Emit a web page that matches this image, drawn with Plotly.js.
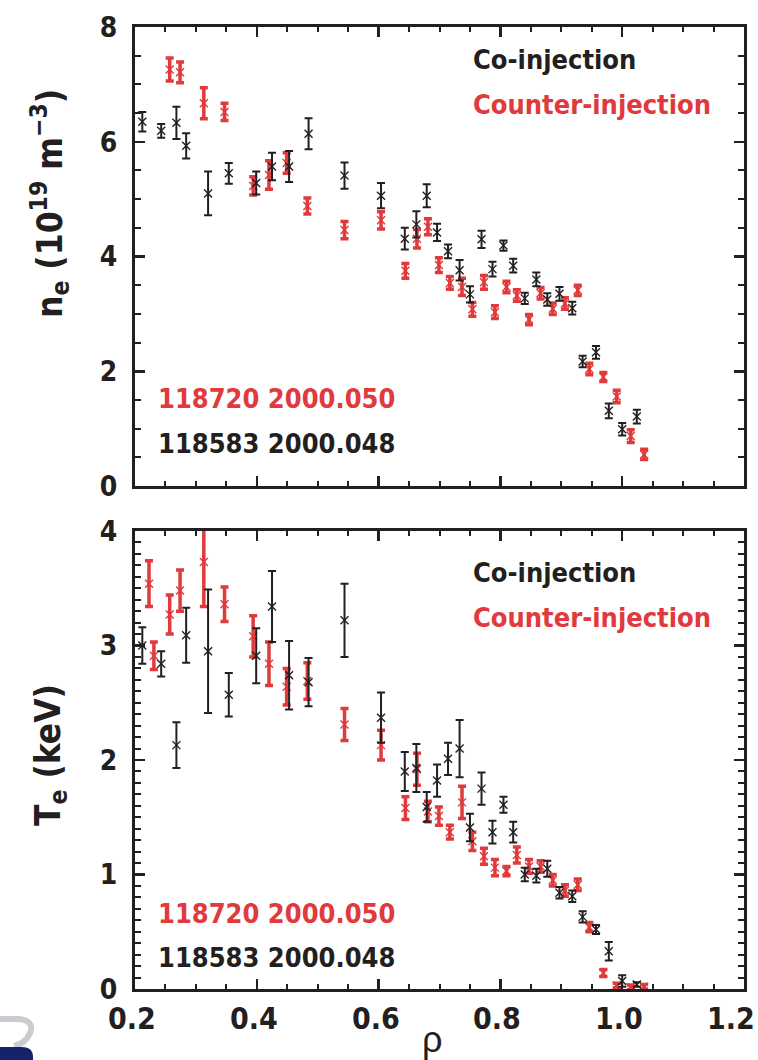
<!DOCTYPE html>
<html>
<head>
<meta charset="utf-8">
<script src="https://cdn.plot.ly/plotly-3.0.1.min.js"></script>
<style>html,body{margin:0;padding:0;background:#fff;}#chart{width:758px;height:1060px;}</style>
</head>
<body>
<div id="chart"></div>
<script>
// ---------------- data ----------------
// Co-injection (black), shot 118583 @ 2000.048
const rhoCo = [0.212,0.243,0.268,0.284,0.320,0.354,0.399,0.425,0.453,0.485,
  0.544,0.604,0.643,0.662,0.679,0.696,0.714,0.733,0.750,0.769,0.787,0.805,0.821,
  0.840,0.859,0.877,0.897,0.918,0.935,0.957,0.978,1.000,1.024];
const neCo = [6.35,6.19,6.33,5.93,5.10,5.45,5.28,5.57,5.57,6.14,
  5.41,5.06,4.31,4.56,5.06,4.42,4.09,3.76,3.34,4.30,3.78,4.19,3.84,
  3.27,3.60,3.25,3.35,3.10,2.17,2.33,1.31,0.99,1.21];
const neCoErr = [0.17,0.12,0.28,0.22,0.38,0.18,0.20,0.24,0.27,0.27,
  0.23,0.22,0.19,0.23,0.20,0.15,0.12,0.18,0.14,0.15,0.13,0.09,0.12,
  0.10,0.12,0.11,0.12,0.11,0.10,0.11,0.13,0.11,0.12];
const teCo = [3.00,2.84,2.13,3.09,2.95,2.57,2.91,3.34,2.74,2.68,
  3.22,2.37,1.90,1.93,1.59,1.82,2.01,2.10,1.41,1.75,1.37,1.61,1.37,
  1.00,0.99,1.05,0.84,0.81,0.63,0.52,0.33,0.07,0.04];
const teCoErr = [0.16,0.11,0.20,0.24,0.54,0.19,0.24,0.31,0.30,0.21,
  0.32,0.22,0.17,0.21,0.13,0.14,0.14,0.25,0.12,0.14,0.10,0.07,0.09,
  0.06,0.06,0.07,0.05,0.05,0.05,0.04,0.08,0.05,0.02];

// Counter-injection (red), shot 118720 @ 2000.050
const rhoCtrNe = [0.257,0.274,0.313,0.347,0.394,0.420,0.449,0.483,
  0.544,0.604,0.644,0.663,0.681,0.699,0.717,0.737,0.754,0.773,0.791,0.810,0.827,
  0.847,0.866,0.886,0.906,0.927,0.946,0.969,0.991,1.014,1.036];
const neCtr = [7.26,7.21,6.67,6.52,5.23,5.42,5.63,4.88,
  4.46,4.63,3.75,4.31,4.52,3.85,3.54,3.47,3.08,3.55,3.03,3.47,3.32,
  2.90,3.36,3.09,3.18,3.41,2.04,1.90,1.56,0.87,0.55];
const neCtrErr = [0.20,0.18,0.27,0.15,0.16,0.25,0.18,0.14,
  0.15,0.15,0.13,0.16,0.14,0.13,0.11,0.15,0.12,0.12,0.11,0.10,0.10,
  0.09,0.10,0.10,0.10,0.09,0.10,0.08,0.11,0.11,0.09];
const rhoCtrTe = [0.223,0.231,0.257,0.274,0.313,0.347,0.394,0.420,0.449,0.483,
  0.544,0.604,0.644,0.663,0.681,0.699,0.717,0.737,0.754,0.773,0.791,0.810,0.827,
  0.847,0.866,0.886,0.906,0.927,0.946,0.969,0.991,1.014,1.036];
const teCtr = [3.54,2.91,3.27,3.48,3.73,3.36,3.08,2.84,2.64,2.69,
  2.31,2.13,1.58,1.92,1.55,1.51,1.37,1.63,1.29,1.16,1.06,1.03,1.17,
  1.07,1.07,0.95,0.86,0.91,0.54,0.14,0.03,0.015,0.02];
const teCtrErr = [0.20,0.12,0.17,0.18,0.39,0.15,0.18,0.19,0.16,0.16,
  0.14,0.13,0.10,0.14,0.09,0.08,0.06,0.14,0.08,0.07,0.07,0.04,0.07,
  0.06,0.05,0.05,0.05,0.05,0.04,0.03,0.02,0.02,0.02];

const xTicks = [0.2,0.4,0.6,0.8,1.0,1.2];
const xTickText = ['0.2','0.4','0.6','0.8','1.0','1.2'];
const legendCo = 'Co-injection';
const legendCtr = 'Counter-injection';
const shotCtr = '118720 2000.050';
const shotCo = '118583 2000.048';

// ---------------- style ----------------
const BLACK = '#231f20';
const RED = '#e03a3c';
const FONT = "'Liberation Sans Narrow', 'Arial Narrow', 'DejaVu Sans Condensed', 'Liberation Sans', sans-serif";

// figure geometry (pixels)
const W = 758, H = 1060;
const M = {l:135, r:14, t:27, b:71};
const PW = W - M.l - M.r, PH = H - M.t - M.b;
const px2x = p => (p - M.l) / PW;
const py2y = p => (H - M.b - p) / PH;

function coTrace(x, y, e, xa, ya) {
  return {x, y, type:'scatter', mode:'markers', xaxis:xa, yaxis:ya, showlegend:false,
    marker:{symbol:'x-thin', size:8, color:BLACK, line:{color:BLACK, width:1.4}},
    error_y:{type:'data', array:e, visible:true, color:BLACK, thickness:2, width:4}};
}
function ctrTrace(x, y, e, xa, ya) {
  return {x, y, type:'scatter', mode:'markers', xaxis:xa, yaxis:ya, showlegend:false,
    marker:{symbol:'x-thin', size:8, color:RED, line:{color:RED, width:1.4}},
    error_y:{type:'data', array:e, visible:true, color:RED, thickness:3.5, width:4}};
}

const data = [
  ctrTrace(rhoCtrNe, neCtr, neCtrErr, 'x2', 'y2'),
  coTrace(rhoCo, neCo, neCoErr, 'x2', 'y2'),
  ctrTrace(rhoCtrTe, teCtr, teCtrErr, 'x', 'y'),
  coTrace(rhoCo, teCo, teCoErr, 'x', 'y')
];

const axCommon = {
  showgrid:false, zeroline:false, showline:true, linecolor:BLACK, linewidth:3,
  mirror:'allticks', ticks:'inside', ticklen:10, tickwidth:2.5, tickcolor:BLACK,
  tickfont:{family:FONT, size:28, color:BLACK, weight:'bold'}
};

const xCommon = Object.assign({}, axCommon, {
  range:[0.2,1.2], tickvals:xTicks, ticktext:xTickText, showticklabels:false,
  minor:{ticks:'inside', ticklen:5, tickwidth:2, tickcolor:BLACK, dtick:0.05, tick0:0.2, showgrid:false}
});

const layout = {
  width:W, height:H, margin:M,
  paper_bgcolor:'#fff', plot_bgcolor:'#fff', showlegend:false,
  font:{family:FONT, color:BLACK},
  xaxis: Object.assign({}, xCommon, {anchor:'y'}),
  xaxis2: Object.assign({}, xCommon, {anchor:'y2', matches:'x'}),
  yaxis: Object.assign({}, axCommon, {domain:[0, py2y(531)], anchor:'x', range:[0,4], dtick:1, tick0:0,
    ticklabelstandoff:9,
    minor:{ticks:'inside', ticklen:6, tickwidth:2, tickcolor:BLACK, dtick:0.1, showgrid:false}}),
  yaxis2: Object.assign({}, axCommon, {domain:[py2y(486), 1], anchor:'x2', range:[0,8], dtick:2, tick0:0,
    ticklabelstandoff:9,
    minor:{ticks:'inside', ticklen:6, tickwidth:2, tickcolor:BLACK, dtick:0.5, showgrid:false}}),
  annotations: [],
  shapes: []
};

function txt(text, xpx, ypx, color, size, opts) {
  return Object.assign({text, xref:'paper', yref:'paper', x:px2x(xpx), y:py2y(ypx),
    xanchor:'left', yanchor:'middle', showarrow:false,
    font:{family:FONT, size:size, color:color, weight:'bold'}}, opts || {});
}

// x tick labels, placed on the bottom axis scale (last one kept inside the page edge)
xTicks.forEach((v, i) => {
  const last = i === xTicks.length - 1;
  layout.annotations.push({
    text: xTickText[i], xref:'x', yref:'paper', x: v, y: py2y(1018),
    xanchor: last ? 'right' : 'center', yanchor:'middle', xshift: last ? 13 : -3,
    showarrow:false, font:{family:FONT, size:30, color:BLACK, weight:'bold'}
  });
});

layout.annotations.push(
  txt(legendCo, 471, 60, BLACK, 27),
  txt(legendCtr, 471, 105, RED, 27),
  txt(shotCtr, 156, 398, RED, 27),
  txt(shotCo, 156, 443, BLACK, 27),
  txt(legendCo, 471, 572, BLACK, 27),
  txt(legendCtr, 471, 617, RED, 27),
  txt(shotCtr, 156, 913, RED, 27),
  txt(shotCo, 156, 957, BLACK, 27),
  txt('n<sub>e</sub> (10<sup>19</sup> m<sup>−3</sup>)', 50, 204, BLACK, 35, {xanchor:'center', textangle:-90}),
  txt('T<sub>e</sub> (keV)', 50, 755, BLACK, 35, {xanchor:'center', textangle:-90}),
  txt('ρ', 432, 1039, BLACK, 36, {xanchor:'center', font:{family:"'Liberation Sans', 'DejaVu Sans', sans-serif", size:36, color:BLACK}})
);

// decorative corner logo fragment
function pathPx(cmds) {
  return cmds.map(c => typeof c === 'string' ? c : (px2x(c[0]).toFixed(5) + ',' + py2y(c[1]).toFixed(5))).join(' ');
}
layout.shapes.push(
  {type:'path', xref:'paper', yref:'paper', layer:'above',
   path: pathPx(['M',[0,1019],'L',[19,1019],'Q',[35,1021],[30,1033],'Q',[26,1043],[14,1046]]),
   line:{color:'#c9ccd1', width:6}, fillcolor:'rgba(0,0,0,0)'},
  {type:'path', xref:'paper', yref:'paper', layer:'above',
   path: pathPx(['M',[0,1047],'L',[22,1047],'Q',[33,1047],[33,1057],'L',[33,1060],'L',[0,1060],'Z']),
   line:{width:0}, fillcolor:'#15246a'}
);

Plotly.newPlot('chart', data, layout, {displayModeBar:false, staticPlot:true});
</script>
</body>
</html>
